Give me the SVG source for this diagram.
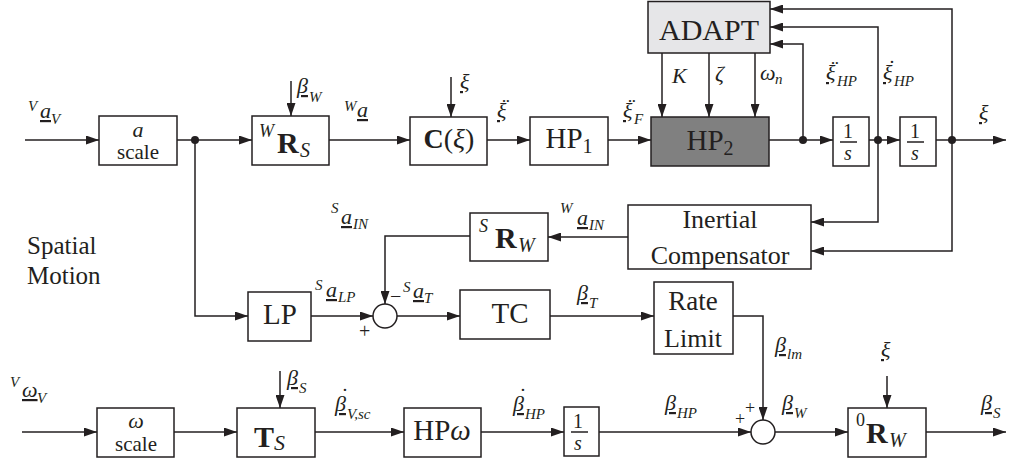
<svg xmlns="http://www.w3.org/2000/svg" width="1010" height="462" viewBox="0 0 1010 462" font-family="'Liberation Serif', 'DejaVu Serif', serif">
<defs>
<marker id="ah" markerUnits="userSpaceOnUse" markerWidth="13" markerHeight="9" refX="13" refY="4.5" orient="auto">
<path d="M0,0 L13,4.5 L0,9 z" fill="#231f20"/>
</marker>
<style>
text{font-family:'Liberation Serif','DejaVu Serif',serif;fill:#231f20}
.box{fill:#fff;stroke:#231f20;stroke-width:1.5}
.w{stroke:#231f20;stroke-width:1.5;fill:none;marker-end:url(#ah)}
.l{stroke:#231f20;stroke-width:1.5;fill:none}
.dot{fill:#231f20}
.i{font-style:italic}
.b{font-weight:bold}
.u{text-decoration:underline}
.lb{font-size:22px;font-style:italic}
.sb{font-size:15px;font-style:italic}
.ac{font-size:22px;font-style:normal;text-decoration:none}
.bt{font-size:29px}
.mt{font-size:25px}
</style>
</defs>

<g id="connectors">
<path class="w" d="M25,140 H99"/>
<path class="w" d="M177,140 H252"/>
<path class="w" d="M329,140 H410"/>
<path class="w" d="M487,140 H530"/>
<path class="w" d="M608,140 H651"/>
<path class="w" d="M769,140 H833"/>
<path class="w" d="M869,140 H900"/>
<path class="w" d="M936,140 H1006"/>
<path class="w" d="M291,81 V116"/>
<path class="w" d="M451,77 V117"/>
<path class="w" d="M662,53 V117"/>
<path class="w" d="M709,53 V117"/>
<path class="w" d="M755,53 V117"/>
<path class="w" d="M803,140 V44 H770"/>
<path class="w" d="M878,140 V27 H770"/>
<path class="w" d="M952,140 V9 H770"/>
<path class="w" d="M878,140 V222 H811"/>
<path class="w" d="M952,140 V251 H811"/>
<path class="w" d="M628,237 H548"/>
<path class="w" d="M470,236 H385 V304"/>
<path class="w" d="M195,140 V316 H248"/>
<path class="w" d="M311,316 H373"/>
<path class="w" d="M397,316 H460"/>
<path class="w" d="M550,316 H654"/>
<path class="w" d="M733,316 H763 V420"/>
<path class="w" d="M22,432 H97"/>
<path class="w" d="M174,432 H237"/>
<path class="w" d="M280,371 V408"/>
<path class="w" d="M315,432 H404"/>
<path class="w" d="M481,432 H564"/>
<path class="w" d="M599,432 H751"/>
<path class="w" d="M775,432 H848"/>
<path class="w" d="M887,376 V408"/>
<path class="w" d="M926,432 H1006"/>
<circle class="dot" cx="195" cy="140" r="4"/>
<circle class="dot" cx="803" cy="140" r="4"/>
<circle class="dot" cx="878" cy="140" r="4"/>
<circle class="dot" cx="952" cy="140" r="4"/>
</g>

<g id="ascale">
<rect class="box" x="99" y="116" width="78" height="49"/>
<text x="138" y="137" text-anchor="middle" class="lb">a</text>
<text x="138" y="159" text-anchor="middle" font-size="21">scale</text>
</g>

<g id="WRS">
<rect class="box" x="252" y="116" width="77" height="49"/>
<text><tspan x="259" y="137" class="i" font-size="18">W</tspan><tspan x="277" y="153" class="b" font-size="30">R</tspan><tspan x="300" y="157" class="i" font-size="20">S</tspan></text>
</g>

<g id="C">
<rect class="box" x="410" y="117" width="77" height="48"/>
<text x="449" y="148" text-anchor="middle" font-size="28"><tspan class="b">C</tspan>(<tspan class="i">ξ</tspan>)</text>
</g>

<g id="HP1">
<rect class="box" x="530" y="117" width="78" height="48"/>
<text x="569" y="148" text-anchor="middle" class="bt">HP<tspan font-size="20" dy="5">1</tspan></text>
</g>

<g id="HP2">
<rect x="651" y="117" width="118" height="49" fill="#808080" stroke="#231f20" stroke-width="1.5"/>
<text x="710" y="150" text-anchor="middle" class="bt">HP<tspan font-size="20" dy="5">2</tspan></text>
</g>

<g id="ADAPT">
<rect x="648" y="1.5" width="122" height="51.5" fill="#e6e6e8" stroke="#231f20" stroke-width="1.5"/>
<text x="709" y="40" text-anchor="middle" font-size="30">ADAPT</text>
</g>

<g id="int1">
<rect class="box" x="833" y="117" width="36" height="49"/>
<text x="848" y="138" text-anchor="middle" font-size="20">1</text>
<line class="l" x1="840" y1="142" x2="857" y2="142"/>
<text x="848" y="160" text-anchor="middle" class="i" font-size="20">s</text>
</g>

<g id="int2">
<rect class="box" x="900" y="117" width="36" height="49"/>
<text x="915" y="138" text-anchor="middle" font-size="20">1</text>
<line class="l" x1="907" y1="142" x2="924" y2="142"/>
<text x="915" y="160" text-anchor="middle" class="i" font-size="20">s</text>
</g>

<g id="IC">
<rect class="box" x="628" y="205" width="183" height="64"/>
<text x="720" y="228" text-anchor="middle" font-size="26">Inertial</text>
<text x="720" y="264" text-anchor="middle" font-size="26">Compensator</text>
</g>

<g id="SRW">
<rect class="box" x="470" y="213" width="78" height="48"/>
<text><tspan x="479" y="232" class="i" font-size="18">S</tspan><tspan x="495" y="248" class="b" font-size="30">R</tspan><tspan x="518" y="252" class="i" font-size="20">W</tspan></text>
</g>

<g id="LP">
<rect class="box" x="248" y="292" width="63" height="49"/>
<text x="280" y="324" text-anchor="middle" class="bt">LP</text>
</g>

<g id="sum1">
<circle class="box" cx="385" cy="316" r="12"/>
</g>

<g id="TC">
<rect class="box" x="460" y="290" width="90" height="49"/>
<text x="510" y="323" text-anchor="middle" class="bt">TC</text>
</g>

<g id="RL">
<rect class="box" x="654" y="282" width="79" height="72"/>
<text x="693" y="310" text-anchor="middle" font-size="27">Rate</text>
<text x="693" y="347" text-anchor="middle" font-size="26">Limit</text>
</g>

<g id="wscale">
<rect class="box" x="97" y="408" width="77" height="49"/>
<text x="136" y="428" text-anchor="middle" class="lb">ω</text>
<text x="136" y="451" text-anchor="middle" font-size="21">scale</text>
</g>

<g id="TS">
<rect class="box" x="237" y="408" width="78" height="49"/>
<text><tspan x="254" y="447" class="b" font-size="30">T</tspan><tspan x="274" y="450" class="i" font-size="22">S</tspan></text>
</g>

<g id="HPw">
<rect class="box" x="404" y="408" width="77" height="49"/>
<text x="442" y="440" text-anchor="middle" class="bt">HP<tspan class="i">ω</tspan></text>
</g>

<g id="int3">
<rect class="box" x="564" y="407" width="35" height="49"/>
<text x="578" y="428" text-anchor="middle" font-size="20">1</text>
<line class="l" x1="571" y1="432" x2="588" y2="432"/>
<text x="578" y="450" text-anchor="middle" class="i" font-size="20">s</text>
</g>

<g id="sum2">
<circle class="box" cx="763" cy="432" r="12"/>
</g>

<g id="RW0">
<rect class="box" x="848" y="408" width="78" height="49"/>
<text><tspan x="856" y="426" font-size="18">0</tspan><tspan x="866" y="443" class="b" font-size="30">R</tspan><tspan x="889" y="447" class="i" font-size="20">W</tspan></text>
</g>

<g id="labels">
<text><tspan x="28" y="111" class="sb">V</tspan><tspan x="40" y="118" class="lb u">a</tspan><tspan x="51" y="124" class="sb">V</tspan></text>
<text><tspan x="297" y="93" class="lb u">β</tspan><tspan x="309" y="102" class="sb">W</tspan></text>
<text><tspan x="344" y="111" class="sb">W</tspan><tspan x="357" y="117" class="lb u">a</tspan></text>
<text x="460" y="89" class="lb u">ξ</text>
<text><tspan x="497" y="118" class="lb u">ξ</tspan><tspan x="506" y="113" class="ac" text-anchor="middle">¨</tspan></text>
<text><tspan x="623" y="118" class="lb u">ξ</tspan><tspan x="634" y="124" class="sb">F</tspan><tspan x="632" y="113" class="ac" text-anchor="middle">¨</tspan></text>
<text x="672" y="83" class="lb">K</text>
<text x="715" y="81" class="lb">ζ</text>
<text><tspan x="760" y="80" class="lb">ω</tspan><tspan x="775" y="84" class="sb">n</tspan></text>
<text><tspan x="826" y="80" class="lb u">ξ</tspan><tspan x="837" y="86" class="sb">HP</tspan><tspan x="835" y="75" class="ac" text-anchor="middle">¨</tspan></text>
<text><tspan x="883" y="80" class="lb u">ξ</tspan><tspan x="894" y="86" class="sb">HP</tspan><tspan x="892" y="75" class="ac" text-anchor="middle">˙</tspan></text>
<text x="979" y="120" class="lb u">ξ</text>
<text x="27" y="254" class="mt">Spatial</text>
<text x="27" y="284" class="mt">Motion</text>
<text><tspan x="331" y="213" class="sb">S</tspan><tspan x="341" y="224" class="lb u">a</tspan><tspan x="353" y="229" class="sb">IN</tspan></text>
<text><tspan x="560" y="213" class="sb">W</tspan><tspan x="577" y="225" class="lb u">a</tspan><tspan x="589" y="230" class="sb">IN</tspan></text>
<text><tspan x="315" y="290" class="sb">S</tspan><tspan x="326" y="297" class="lb u">a</tspan><tspan x="338" y="302" class="sb">LP</tspan></text>
<text><tspan x="390" y="303" font-size="20">−</tspan><tspan x="403" y="292" class="sb">S</tspan><tspan x="413" y="298" class="lb u">a</tspan><tspan x="424" y="303" class="sb">T</tspan></text>
<text x="359" y="338" font-size="20">+</text>
<text><tspan x="577" y="300" class="lb u">β</tspan><tspan x="589" y="308" class="sb">T</tspan></text>
<text><tspan x="775" y="352" class="lb u">β</tspan><tspan x="787" y="359" class="sb">lm</tspan></text>
<text><tspan x="10" y="387" class="sb">V</tspan><tspan x="22" y="397" class="lb u">ω</tspan><tspan x="37" y="403" class="sb">V</tspan></text>
<text><tspan x="287" y="385" class="lb u">β</tspan><tspan x="299" y="393" class="sb">S</tspan></text>
<text><tspan x="335" y="411" class="lb u">β</tspan><tspan x="347" y="419" class="sb">V,sc</tspan><tspan x="345" y="403" class="ac" text-anchor="middle">˙</tspan></text>
<text><tspan x="513" y="411" class="lb u">β</tspan><tspan x="525" y="419" class="sb">HP</tspan><tspan x="523" y="403" class="ac" text-anchor="middle">˙</tspan></text>
<text><tspan x="665" y="410" class="lb u">β</tspan><tspan x="677" y="418" class="sb">HP</tspan></text>
<text x="735" y="425" font-size="18">+</text>
<text x="745" y="414" font-size="18">+</text>
<text><tspan x="782" y="410" class="lb u">β</tspan><tspan x="794" y="418" class="sb">W</tspan></text>
<text x="881" y="357" class="lb u">ξ</text>
<text><tspan x="981" y="410" class="lb u">β</tspan><tspan x="993" y="418" class="sb">S</tspan></text>
</g>
</svg>
